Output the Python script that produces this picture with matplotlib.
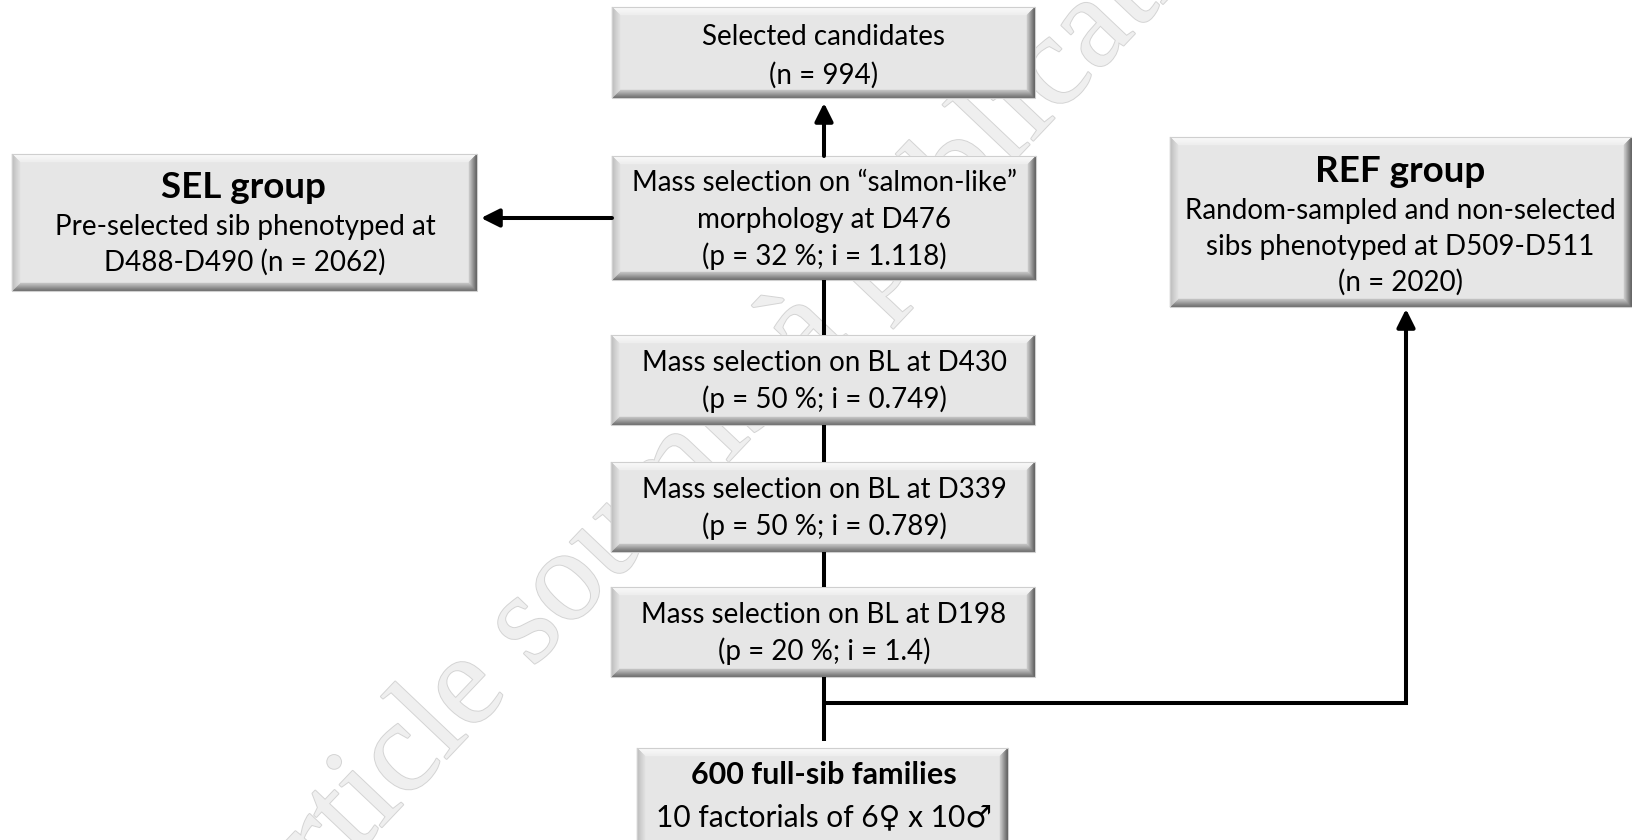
import numpy as np
import matplotlib.pyplot as plt
import matplotlib.colors as mcolors
import matplotlib.patheffects as pe
from matplotlib.patches import Polygon, Rectangle

plt.rcParams['font.family'] = ['Lato', 'DejaVu Sans']

# texts of the flow chart
selected_lines = ["Selected candidates", "(n = 994)"]
salmon_lines = ["Mass selection on \u201csalmon-like\u201d", "morphology at D476", "(p = 32 %; i = 1.118)"]
bl_days = ["D430", "D339", "D198"]
bl_p = [50, 50, 20]
bl_i = ["0.749", "0.789", "1.4"]
sel_title = "SEL group"
sel_lines = ["Pre-selected sib phenotyped at", "D488-D490 (n = 2062)"]
ref_title = "REF group"
ref_lines = ["Random-sampled and non-selected", "sibs phenotyped at D509-D511", "(n = 2020)"]
base_title = "600 full-sib families"
base_lines = ["10 factorials of 6\u2640 x 10\u2642"]
watermark = "Article soumis \u00e0 publication"

FS = 20
LW = 2.9


def mix(c1, c2, t):
    a = np.array(mcolors.to_rgb(c1))
    b = np.array(mcolors.to_rgb(c2))
    return tuple((1 - t) * a + t * b)


def bevel_box(ax, x0, x1, y0, y1, w=8, n=8):
    ax.add_patch(Rectangle((x0, y0), x1 - x0, y1 - y0, fc='#e6e6e6', ec='none', zorder=2))
    sides = {'top': ('#fbfbfb', '#eeeeee'), 'left': ('#bdbdbd', '#dedede'),
             'right': ('#5e5e5e', '#c6c6c6'), 'bottom': ('#6e6e6e', '#c0c0c0')}
    for k in range(n):
        a = w * k / n
        b = w * (k + 1) / n
        t = k / (n - 1)
        ox0, ox1, oy0, oy1 = x0 + a, x1 - a, y0 + a, y1 - a
        ix0, ix1, iy0, iy1 = x0 + b, x1 - b, y0 + b, y1 - b
        polys = {
            'top': [(ox0, oy0), (ox1, oy0), (ix1, iy0), (ix0, iy0)],
            'bottom': [(ox0, oy1), (ox1, oy1), (ix1, iy1), (ix0, iy1)],
            'left': [(ox0, oy0), (ix0, iy0), (ix0, iy1), (ox0, oy1)],
            'right': [(ox1, oy0), (ix1, iy0), (ix1, iy1), (ox1, oy1)],
        }
        for side, pts in polys.items():
            c = mix(sides[side][0], sides[side][1], t)
            ax.add_patch(Polygon(pts, closed=True, fc=c, ec=c, lw=0.3, zorder=3))
    ax.add_patch(Rectangle((x0, y0), x1 - x0, y1 - y0, fc='none', ec='#cfcfcf', lw=0.8, zorder=4))


def put_lines(ax, x, ys, lines, size=FS, weight='normal'):
    for y, s in zip(ys, lines):
        ax.text(x, y, s, ha='center', va='center', fontsize=size,
                fontweight=weight, color='black', zorder=6)


def arrow(ax, start, tip):
    ax.annotate('', xy=tip, xytext=start,
                arrowprops=dict(arrowstyle='-|>,head_length=1.1,head_width=0.55',
                                mutation_scale=10, lw=LW, color='black',
                                shrinkA=0, shrinkB=0), zorder=5)


def line(ax, xs, ys):
    ax.plot(xs, ys, color='black', lw=LW, solid_capstyle='butt', solid_joinstyle='miter', zorder=5)


fig = plt.figure(figsize=(16.32, 8.4), dpi=100)
ax = fig.add_axes([0, 0, 1, 1])
ax.set_xlim(0, 1632)
ax.set_ylim(840, 0)
ax.axis('off')

# watermark
ax.text(745, 398, watermark, rotation=46.5, rotation_mode='anchor', ha='center', va='center',
        fontsize=94, family='Liberation Serif', color='#efefef', zorder=1,
        path_effects=[pe.withStroke(linewidth=1.4, foreground='#d4d4d4')])

cx = 824

# central column
bevel_box(ax, 612, 1035, 7, 98)
put_lines(ax, cx, [37, 75], selected_lines)

bevel_box(ax, 612, 1036, 156, 280)
put_lines(ax, cx, [183, 220, 256], salmon_lines)

bl_boxes = [(335, 425), (462, 552), (587, 677)]
for (y0, y1), d, p, i in zip(bl_boxes, bl_days, bl_p, bl_i):
    bevel_box(ax, 611, 1035, y0, y1)
    ym = (y0 + y1) / 2
    put_lines(ax, cx, [ym - 17, ym + 19],
              ["Mass selection on BL at " + d, "(p = %d %%; i = %s)" % (p, i)])

bevel_box(ax, 637, 1008, 748, 860)
put_lines(ax, cx, [775], [base_title], weight='bold', size=22)
put_lines(ax, cx, [817], base_lines, size=21.5)

# side groups
bevel_box(ax, 12, 477, 154, 291)
put_lines(ax, 243, [188], [sel_title], weight='bold', size=26.5)
put_lines(ax, 245, [227, 262], sel_lines)

bevel_box(ax, 1170, 1632, 137, 307)
put_lines(ax, 1400, [172], [ref_title], weight='bold', size=26.5)
put_lines(ax, 1400, [211, 247, 282], ref_lines)

# connectors
arrow(ax, (cx, 156), (cx, 103))
arrow(ax, (612, 218), (481, 218))
line(ax, [cx, cx], [280, 335])
line(ax, [cx, cx], [425, 462])
line(ax, [cx, cx], [552, 587])
line(ax, [cx, cx], [677, 741])
line(ax, [cx, 1406, 1406], [703, 703, 330])
arrow(ax, (1406, 340), (1406, 309))

fig.savefig('out.png', dpi=100, facecolor='white')
